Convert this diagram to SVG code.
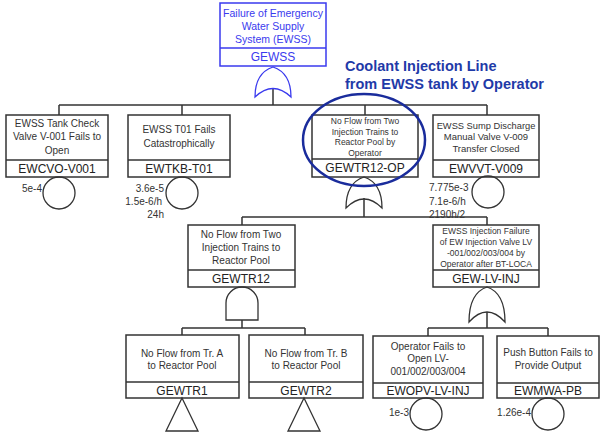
<svg xmlns="http://www.w3.org/2000/svg" width="600" height="435" viewBox="0 0 600 435">
<style>
.box{fill:#fff;stroke:#333;stroke-width:1.5}
.bbox{fill:#fff;stroke:#3a3aee;stroke-width:1.5}
.ln{fill:none;stroke:#333;stroke-width:1.5}
.gate{fill:none;stroke:#333;stroke-width:1.3}
.bgate{fill:none;stroke:#3a3aee;stroke-width:1.3}
.t{font-family:"Liberation Sans",Arial,sans-serif;font-size:10px;fill:#333;text-anchor:middle}
.ts{font-family:"Liberation Sans",Arial,sans-serif;font-size:8.5px;fill:#333;text-anchor:middle}
.id{font-family:"Liberation Sans",Arial,sans-serif;font-size:12px;fill:#222;text-anchor:middle}
.bt{font-family:"Liberation Sans",Arial,sans-serif;font-size:10.5px;fill:#3a3aee;text-anchor:middle}
.bid{font-family:"Liberation Sans",Arial,sans-serif;font-size:12px;fill:#3a3aee;text-anchor:middle}
.p{font-family:"Liberation Sans",Arial,sans-serif;font-size:10px;fill:#333}
.ann{font-family:"Liberation Sans",Arial,sans-serif;font-size:14.5px;font-weight:bold;fill:#1f3aa8}
</style>
<g id="connectors">
<path class="ln" d="M59,105 H487 M59,105 V115 M182,105 V115 M365,105 V115 M487,105 V115 M273,88 V105"/>
<path class="ln" d="M242,217 H487 M242,217 V225 M487,217 V225 M364,198 V217"/>
<path class="ln" d="M182,328 H305 M182,328 V335 M305,328 V335 M242,320 V328"/>
<path class="ln" d="M428,328 H548 M428,328 V336 M548,328 V336 M487,312 V328"/>
</g>
<g id="GEWSS">
<rect class="bbox" x="220" y="3" width="106" height="63"/>
<line class="bbox" x1="220" y1="48" x2="326" y2="48"/>
<text class="bt" x="273" y="17">Failure of Emergency</text>
<text class="bt" x="273" y="30">Water Supply</text>
<text class="bt" x="273" y="43">System (EWSS)</text>
<text class="bid" x="273" y="61">GEWSS</text>
<path class="bgate" d="M273,67 C285,71 291,81 291,97 Q273,80 255,97 C255,81 261,71 273,67 Z"/>
</g>
<g id="EWCVO-V001">
<rect class="box" x="6" y="115" width="102" height="62"/>
<line class="box" x1="6" y1="160" x2="108" y2="160"/>
<text class="t" x="57" y="127">EWSS Tank Check</text>
<text class="t" x="57" y="140">Valve V-001 Fails to</text>
<text class="t" x="57" y="154">Open</text>
<text class="id" x="57" y="173">EWCVO-V001</text>
<circle class="gate" cx="59" cy="193" r="16"/>
<text class="p" x="42" y="192" text-anchor="end">5e-4</text>
</g>
<g id="EWTKB-T01">
<rect class="box" x="128" y="115" width="102" height="62"/>
<line class="box" x1="128" y1="160" x2="230" y2="160"/>
<text class="t" x="179" y="133">EWSS T01 Fails</text>
<text class="t" x="179" y="147">Catastrophically</text>
<text class="id" x="179" y="173">EWTKB-T01</text>
<circle class="gate" cx="182" cy="193" r="16"/>
<text class="p" x="164" y="192" text-anchor="end">3.6e-5</text>
<text class="p" x="162" y="205" text-anchor="end">1.5e-6/h</text>
<text class="p" x="164" y="218" text-anchor="end">24h</text>
</g>
<g id="GEWTR12-OP">
<rect class="box" x="312" y="115" width="106" height="62"/>
<line class="box" x1="312" y1="159" x2="418" y2="159"/>
<text class="ts" x="365" y="124">No Flow from Two</text>
<text class="ts" x="365" y="135">Injection Trains to</text>
<text class="ts" x="365" y="145">Reactor Pool by</text>
<text class="ts" x="365" y="156">Operator</text>
<text class="id" x="365" y="172">GEWTR12-OP</text>
<path class="gate" d="M364,177 C376,181 382,191 382,208 Q364,190 346,208 C346,191 352,181 364,177 Z"/>
</g>
<g id="EWVVT-V009">
<rect class="box" x="433" y="115" width="106" height="62"/>
<line class="box" x1="433" y1="160" x2="539" y2="160"/>
<text class="t" x="486" y="129" style="font-size:9.3px">EWSS Sump Discharge</text>
<text class="t" x="486" y="140" style="font-size:9.5px">Manual Valve V-009</text>
<text class="t" x="486" y="152" style="font-size:9.5px">Transfer Closed</text>
<text class="id" x="486" y="173">EWVVT-V009</text>
<circle class="gate" cx="488" cy="192" r="16"/>
<text class="p" x="429" y="191">7.775e-3</text>
<text class="p" x="429" y="205">7.1e-6/h</text>
<text class="p" x="429" y="218">2190h/2</text>
</g>
<g id="annotation">
<ellipse cx="364" cy="140" rx="61" ry="46" fill="none" stroke="#1a2c9c" stroke-width="2.5"/>
<text class="ann" x="345" y="71">Coolant Injection Line</text>
<text class="ann" x="345" y="89">from EWSS tank by Operator</text>
</g>
<g id="GEWTR12">
<rect class="box" x="188" y="225" width="107" height="62"/>
<line class="box" x1="188" y1="270" x2="295" y2="270"/>
<text class="t" x="241" y="238">No Flow from Two</text>
<text class="t" x="241" y="251">Injection Trains to</text>
<text class="t" x="241" y="264">Reactor Pool</text>
<text class="id" x="241" y="283">GEWTR12</text>
<path class="gate" d="M226,320 V303 A16,16 0 0 1 258,303 V320 Z"/>
</g>
<g id="GEW-LV-INJ">
<rect class="box" x="433" y="225" width="106" height="62"/>
<line class="box" x1="433" y1="270" x2="539" y2="270"/>
<text class="ts" x="486" y="234">EWSS Injection Failure</text>
<text class="ts" x="486" y="245">of EW Injection Valve LV</text>
<text class="ts" x="486" y="256">-001/002/003/004 by</text>
<text class="ts" x="486" y="267">Operator after BT-LOCA</text>
<text class="id" x="486" y="283">GEW-LV-INJ</text>
<path class="gate" d="M487,287 C499,291 505,302 505,322 Q487,302 469,322 C469,302 475,291 487,287 Z"/>
</g>
<g id="GEWTR1">
<rect class="box" x="126" y="335" width="113" height="63"/>
<line class="box" x1="126" y1="382" x2="239" y2="382"/>
<text class="t" x="182" y="357">No Flow from Tr. A</text>
<text class="t" x="182" y="369">to Reactor Pool</text>
<text class="id" x="182" y="395">GEWTR1</text>
<path class="gate" d="M182,398 L198,431 H166 Z"/>
</g>
<g id="GEWTR2">
<rect class="box" x="249" y="335" width="114" height="63"/>
<line class="box" x1="249" y1="382" x2="363" y2="382"/>
<text class="t" x="306" y="357">No Flow from Tr. B</text>
<text class="t" x="306" y="369">to Reactor Pool</text>
<text class="id" x="306" y="395">GEWTR2</text>
<path class="gate" d="M304,398 L320,431 H288 Z"/>
</g>
<g id="EWOPV-LV-INJ">
<rect class="box" x="373" y="336" width="110" height="62"/>
<line class="box" x1="373" y1="383" x2="483" y2="383"/>
<text class="t" x="428" y="350">Operator Fails to</text>
<text class="t" x="428" y="362">Open LV-</text>
<text class="t" x="428" y="375">001/002/003/004</text>
<text class="id" x="428" y="395">EWOPV-LV-INJ</text>
<circle class="gate" cx="426" cy="414" r="16"/>
<text class="p" x="409" y="416" text-anchor="end">1e-3</text>
</g>
<g id="EWMWA-PB">
<rect class="box" x="497" y="336" width="102" height="62"/>
<line class="box" x1="497" y1="383" x2="599" y2="383"/>
<text class="t" x="548" y="356">Push Button Fails to</text>
<text class="t" x="548" y="369">Provide Output</text>
<text class="id" x="548" y="395">EWMWA-PB</text>
<circle class="gate" cx="548" cy="414" r="16"/>
<text class="p" x="531" y="416" text-anchor="end">1.26e-4</text>
</g>
</svg>
